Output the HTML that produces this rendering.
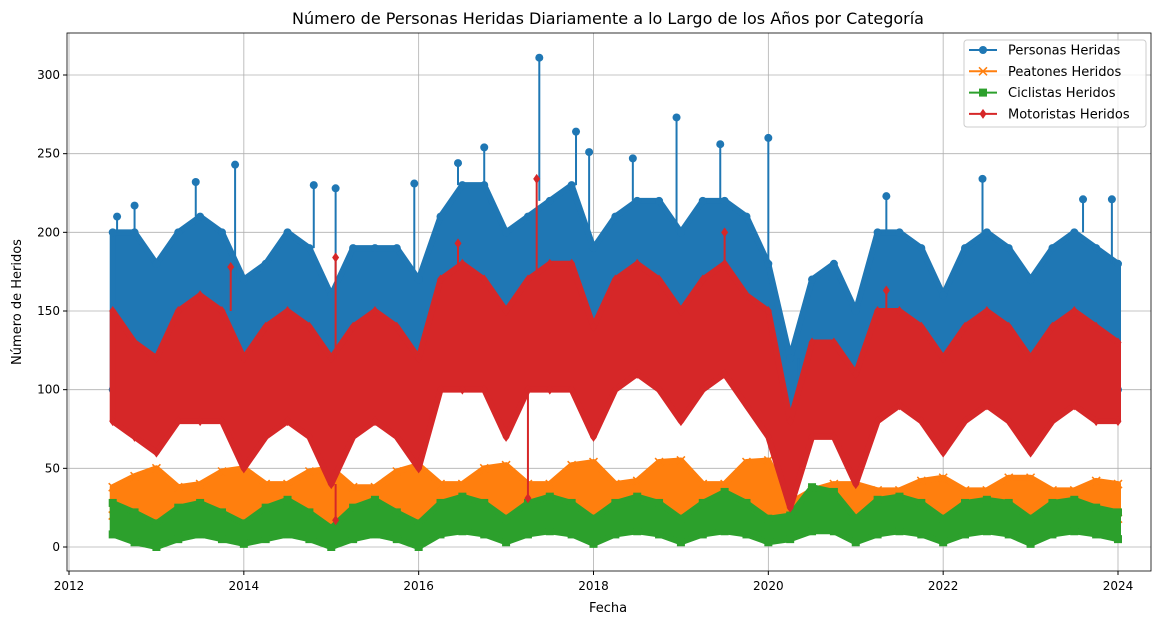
<!DOCTYPE html>
<html><head><meta charset="utf-8"><style>
body{margin:0;background:#fff;font-family:"Liberation Sans","DejaVu Sans",sans-serif}
svg text{font-family:"DejaVu Sans","Liberation Sans",sans-serif}
</style></head><body>
<svg id="chart" width="1160" height="625" xmlns="http://www.w3.org/2000/svg">
<rect width="1160" height="625" fill="#fff"/>
<text x="608" y="24" font-size="16" text-anchor="middle">Número de Personas Heridas Diariamente a lo Largo de los Años por Categoría</text>
<g id="grid"></g><g id="series"></g><g id="axes"></g>
<text x="608" y="612" font-size="13" text-anchor="middle">Fecha</text>
<text x="21" y="302" font-size="13" text-anchor="middle" transform="rotate(-90 21 302)">Número de Heridos</text>
<g id="legend"></g>
</svg>
<script>
const startYear = 2012.5, step = 0.25;
const xTicks = [2012,2014,2016,2018,2020,2022,2024];
const yTicks = [0,50,100,150,200,250,300];
const personasLow  = [100,95,85,110,110,110,90,110,110,100,70,100,110,100,80,120,130,120,100,120,130,130,90,120,130,120,100,120,130,120,90,40,90,90,60,100,110,110,80,110,110,110,80,110,110,100,100];
const personasHigh = [200,200,180,200,210,200,170,180,200,190,160,190,190,190,170,210,230,230,200,210,220,230,190,210,220,220,200,220,220,210,180,120,170,180,150,200,200,190,160,190,200,190,170,190,200,190,180];
const peatonesLow  = [20,18,15,20,20,18,15,20,20,18,12,20,20,18,15,22,22,20,15,22,22,20,15,20,22,20,15,20,22,20,15,8,15,15,10,18,18,18,12,18,20,18,12,18,20,18,18];
const peatonesHigh = [38,45,50,38,40,48,50,40,40,48,50,38,38,48,52,40,40,50,52,40,40,52,54,40,42,54,55,40,40,54,55,28,36,40,40,36,36,42,44,36,36,44,44,36,36,42,40];
const ciclistasLow = [8,3,0,5,8,5,2,5,8,5,0,5,8,5,0,8,10,8,3,8,10,8,2,8,10,8,3,8,10,8,3,5,10,10,3,8,10,8,3,8,10,8,2,8,10,8,5];
const ciclistasHigh= [28,22,15,25,28,22,15,25,30,22,12,25,30,22,15,28,32,28,18,28,32,28,18,28,32,28,18,28,35,28,18,20,38,35,18,30,32,28,18,28,30,28,18,28,30,25,22];
const motoristasLow  = [80,70,60,80,80,80,50,70,80,70,40,70,80,70,50,100,100,100,70,100,100,100,70,100,110,100,80,100,110,90,70,25,70,70,40,80,90,80,60,80,90,80,60,80,90,80,80];
const motoristasHigh = [150,130,120,150,160,150,120,140,150,140,120,140,150,140,120,170,180,170,150,170,180,180,140,170,180,170,150,170,180,160,150,80,130,130,110,150,150,140,120,140,150,140,120,140,150,140,130];
const personasSpikes = [[2012.55,210],[2012.75,217],[2013.45,232],[2013.9,243],[2014.8,230],[2015.05,228],[2015.95,231],[2016.45,244],[2016.75,254],[2017.38,311],[2017.8,264],[2017.95,251],[2018.45,247],[2018.95,273],[2019.45,256],[2020.0,260],[2020.35,68],[2021.35,223],[2022.45,234],[2023.6,221],[2023.93,221]];
const motoristasSpikes = [[2013.85,178],[2015.05,184],[2015.05,17],[2016.45,193],[2017.35,234],[2017.25,31],[2019.5,200],[2021.35,163]];

const X0=69, X1=1118, Y0=547, Y300=75;
const xs = v => X0 + (v-2012)/12*(X1-X0);
const ys = v => Y0 - v/300*(Y0-Y300);
const NS="http://www.w3.org/2000/svg";
function mk(tag, parent, attrs){const e=document.createElementNS(NS,tag);for(const k in attrs)e.setAttribute(k,attrs[k]);parent.appendChild(e);return e;}
const grid=document.getElementById('grid'), axes=document.getElementById('axes'), ser=document.getElementById('series');
const frame=mk('rect',axes,{x:67,y:33,width:1084,height:538,fill:'none',stroke:'#000','stroke-width':0.8});


xTicks.forEach(t=>{const x=xs(t);
 const g=mk('line',grid,{x1:x,x2:x,y1:33,y2:571,stroke:'#b0b0b0','stroke-width':0.8});
 
 
 mk('line',axes,{x1:x,x2:x,y1:571,y2:575,stroke:'#000'});
 const tl=mk('text',axes,{x:x,y:590,'font-size':12,'text-anchor':'middle'});tl.textContent=t;
 
 
});
yTicks.forEach(t=>{const y=ys(t);
 const g=mk('line',grid,{x1:67,x2:1151,y1:y,y2:y,stroke:'#b0b0b0','stroke-width':0.8});
 
 
 mk('line',axes,{x1:63,x2:67,y1:y,y2:y,stroke:'#000'});
 const tl=mk('text',axes,{x:60,y:y+4,'font-size':12,'text-anchor':'end'});tl.textContent=t;
 
 
});
function band(low, high, color, name, marker){
 const g=mk('g',ser,{});
 
 
 let pts=[];
 high.forEach((v,i)=>pts.push(xs(startYear+i*step)+','+ys(v)));
 for(let i=low.length-1;i>=0;i--)pts.push(xs(startYear+i*step)+','+ys(low[i]));
 mk('polygon',g,{points:pts.join(' '),fill:color,stroke:color,'stroke-width':6,'stroke-linejoin':'round'});
 [low,high].forEach(arr=>arr.forEach((v,i)=>drawMarker(g,marker,xs(startYear+i*step),ys(v),color)));
 return g;
}
function drawMarker(g,m,x,y,c){
 if(m==='o')mk('circle',g,{cx:x,cy:y,r:4,fill:c});
 else if(m==='s')mk('rect',g,{x:x-4,y:y-4,width:8,height:8,fill:c});
 else if(m==='d')mk('polygon',g,{points:`${x},${y-5} ${x+3.5},${y} ${x},${y+5} ${x-3.5},${y}`,fill:c});
 else {mk('path',g,{d:`M${x-4} ${y-4}L${x+4} ${y+4}M${x-4} ${y+4}L${x+4} ${y-4}`,stroke:c,'stroke-width':1.5});}
}
const blue='#1f77b4',orange='#ff7f0e',green='#2ca02c',red='#d62728';
const gb=band(personasLow,personasHigh,blue,'series-personas','o');
personasSpikes.forEach(([t,v])=>{const x=xs(t);const i=Math.round((t-startYear)/step);const base=personasHigh[Math.max(0,Math.min(personasHigh.length-1,i))];
 mk('line',gb,{x1:x,x2:x,y1:ys(base),y2:ys(v),stroke:blue,'stroke-width':2});drawMarker(gb,'o',x,ys(v),blue);});
band(peatonesLow,peatonesHigh,orange,'series-peatones','x');
band(ciclistasLow,ciclistasHigh,green,'series-ciclistas','s');
const gr=band(motoristasLow,motoristasHigh,red,'series-motoristas','d');
motoristasSpikes.forEach(([t,v])=>{const x=xs(t);const i=Math.round((t-startYear)/step);const base=v>100?motoristasHigh[i]:motoristasLow[i];
 mk('line',gr,{x1:x,x2:x,y1:ys(base),y2:ys(v),stroke:red,'stroke-width':2});drawMarker(gr,'d',x,ys(v),red);});
const lg=document.getElementById('legend');
mk('rect',lg,{x:964,y:40,width:182,height:87,rx:3,fill:'#fff','fill-opacity':0.8,stroke:'#ccc'});
const labels=['Personas Heridas','Peatones Heridos','Ciclistas Heridos','Motoristas Heridos'];
const colors=[blue,orange,green,red], marks=['o','x','s','d'];
labels.forEach((l,i)=>{const y=50+i*21.3;
 const e=mk('g',lg,{});
 
 
 mk('line',e,{x1:969,x2:997,y1:y,y2:y,stroke:colors[i],'stroke-width':2});
 drawMarker(e,marks[i],983,y,colors[i]);
 const t=mk('text',e,{x:1008,y:y+4.5,'font-size':13});t.textContent=l;
});
</script>
</body></html>
